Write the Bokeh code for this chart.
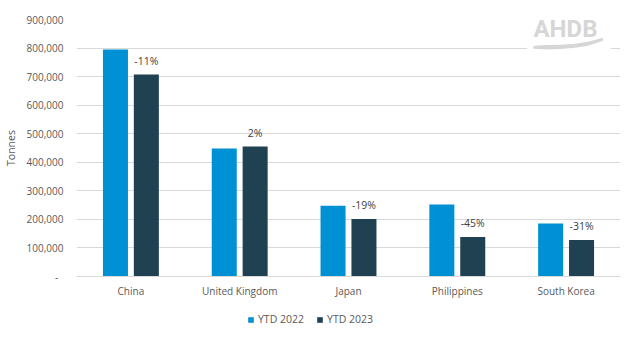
from bokeh.plotting import figure
from bokeh.models import (ColumnDataSource, FactorRange, FixedTicker, CustomJSTickFormatter,
                          LabelSet, Legend, LegendItem, Label, BoxAnnotation)
from bokeh.layouts import column
from bokeh.transform import dodge
from bokeh.embed import file_html
from bokeh.resources import INLINE
from bokeh.core.properties import value

categories = ["China", "United Kingdom", "Japan", "Philippines", "South Korea"]
ytd_2022 = [795000, 448000, 248000, 252000, 186000]
ytd_2023 = [707000, 455000, 201000, 138000, 128000]
change_labels = ["-11%", "2%", "-19%", "-45%", "-31%"]
y_ticks = [0, 100000, 200000, 300000, 400000, 500000, 600000, 700000, 800000, 900000]
series_names = ["YTD 2022", "YTD 2023"]

C1 = "#0090d4"
C2 = "#204152"
FONT = "Open Sans"

src = ColumnDataSource(dict(cat=categories, y2022=ytd_2022, y2023=ytd_2023, pct=change_labels))

p = figure(width=633, height=300, x_range=FactorRange(*categories), y_range=(0, 900000),
           output_backend="svg", toolbar_location=None,
           min_border_left=75, min_border_right=13, min_border_top=19, min_border_bottom=24)
p.outline_line_color = None
p.background_fill_color = "white"

r1 = p.vbar(x=dodge("cat", -0.142, range=p.x_range), top="y2022", width=0.23, source=src,
            fill_color=C1, line_color=None)
r2 = p.vbar(x=dodge("cat", 0.142, range=p.x_range), top="y2023", width=0.23, source=src,
            fill_color=C2, line_color=None)

labels = LabelSet(x=dodge("cat", 0.142, range=p.x_range), y="y2023", text="pct", source=src,
                  y_offset=7, text_align="center", text_baseline="bottom",
                  text_font=value(FONT), text_font_size="10.5px", text_color="#404040")
p.add_layout(labels)

# axes
p.yaxis.ticker = FixedTicker(ticks=y_ticks)
p.yaxis.formatter = CustomJSTickFormatter(
    code="return tick == 0 ? '-\u00a0\u00a0' : tick.toLocaleString('en-US');")
p.yaxis.axis_line_color = None
p.yaxis.major_tick_line_color = None
p.yaxis.minor_tick_line_color = None
p.yaxis.major_tick_out = 0
p.yaxis.minor_tick_out = 0
p.yaxis.major_label_standoff = 13
p.yaxis.major_label_text_font = FONT
p.yaxis.major_label_text_font_size = "10px"
p.yaxis.major_label_text_color = "#595959"
p.yaxis.axis_label = "Tonnes"
p.yaxis.axis_label_text_font = FONT
p.yaxis.axis_label_text_font_size = "10.5px"
p.yaxis.axis_label_text_font_style = "normal"
p.yaxis.axis_label_text_color = "#595959"
p.yaxis.axis_label_standoff = 6

p.xaxis.axis_line_color = "#d9d9d9"
p.xaxis.major_tick_line_color = None
p.xaxis.minor_tick_line_color = None
p.xaxis.major_tick_out = 0
p.xaxis.minor_tick_out = 0
p.xaxis.major_label_standoff = 7
p.xaxis.major_label_text_font = FONT
p.xaxis.major_label_text_font_size = "10px"
p.xaxis.major_label_text_color = "#595959"

p.xgrid.grid_line_color = None
p.ygrid.grid_line_color = "#d9d9d9"
p.ygrid.grid_line_width = 1

# logo (decoration)
p.add_layout(BoxAnnotation(left=4.14, right=4.91, bottom=780000, top=915000,
                           fill_color="white", fill_alpha=1, line_color=None,
                           level="underlay"))
p.add_layout(Label(x=4.2, y=866000, text="AHDB", text_font="Roboto",
                   text_font_style="bold", text_font_size="24px", text_color="#d6d6d6",
                   text_baseline="alphabetic"))
wave_x = [4.20, 4.32, 4.45, 4.58, 4.70, 4.84, 4.84, 4.70, 4.58, 4.45, 4.32, 4.20]
wave_y = [808000, 811000, 812000, 815000, 822000, 836000,
          826000, 808000, 801000, 797000, 795000, 798000]
p.patch(wave_x, wave_y, fill_color="#d6d6d6", line_color=None)

# legend strip below the chart
lg = figure(width=633, height=40, x_range=(0, 1), y_range=(0, 1),
            x_axis_type=None, y_axis_type=None, output_backend="svg",
            toolbar_location=None, min_border=0)
lg.outline_line_color = None
lg.xgrid.visible = False
lg.ygrid.visible = False
offscreen = ColumnDataSource(dict(x=[-10], top=[-10]))
l1 = lg.vbar(x="x", top="top", width=0.1, source=offscreen, fill_color=C1, line_color=None)
l2 = lg.vbar(x="x", top="top", width=0.1, source=offscreen, fill_color=C2, line_color=None)
legend = Legend(items=[LegendItem(label=series_names[0], renderers=[l1]),
                       LegendItem(label=series_names[1], renderers=[l2])],
                orientation="horizontal", location=(171, 14),
                border_line_color=None, background_fill_alpha=0,
                padding=3, margin=0, spacing=12,
                glyph_width=7, glyph_height=7, label_standoff=4,
                label_text_font=FONT, label_text_font_size="10.5px",
                label_text_color="#595959")
lg.add_layout(legend, "center")

open("out.html", "w").write(file_html(column(p, lg, spacing=0), INLINE))
